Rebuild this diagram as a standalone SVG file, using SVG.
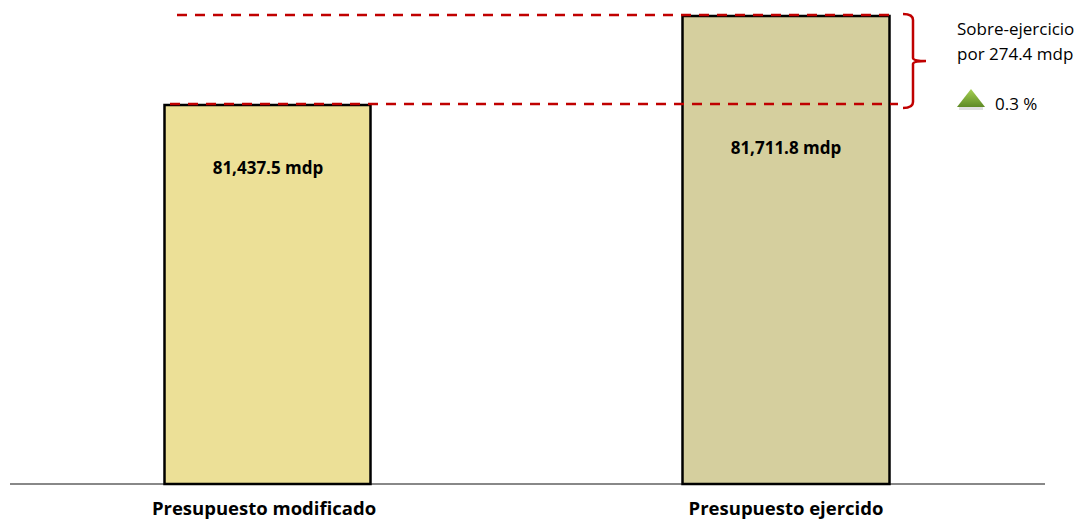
<svg xmlns="http://www.w3.org/2000/svg" width="1080" height="520" viewBox="0 0 1080 520">
<style>
.bar{stroke:#000;stroke-width:2.5}
.dash{fill:none;stroke:#C00000;stroke-width:2.5;stroke-dasharray:10 8}
.val{font-family:"Open Sans","Liberation Sans",sans-serif;font-weight:bold;font-size:17px;fill:#000;text-anchor:middle}
.cat{font-family:"Open Sans","Liberation Sans",sans-serif;font-weight:bold;font-size:18.5px;fill:#000;text-anchor:middle}
.note{font-family:"Open Sans","Liberation Sans",sans-serif;font-size:17px;fill:#000}
</style>
<defs>
<linearGradient id="tri" x1="0" y1="0" x2="0" y2="1">
<stop offset="0" stop-color="#A6D152"/>
<stop offset="1" stop-color="#5E8A25"/>
</linearGradient>
</defs>
<rect width="1080" height="520" fill="#fff"/>
<g id="axis">
<line x1="10" y1="484" x2="1045" y2="484" stroke="#888" stroke-width="2"/>
</g>
<g id="bar-modificado">
<rect class="bar" x="164.5" y="105" width="206" height="379" fill="#ECE097"/>
<text class="val" x="268" y="174">81,437.5 mdp</text>
<text class="cat" x="264" y="515">Presupuesto modificado</text>
</g>
<g id="bar-ejercido">
<rect class="bar" x="682.5" y="16" width="207" height="468" fill="#D5CF9E"/>
<text class="val" x="786" y="154">81,711.8 mdp</text>
<text class="cat" x="786" y="515">Presupuesto ejercido</text>
</g>
<g id="connectors">
<line class="dash" x1="177" y1="15" x2="889" y2="15"/>
<line class="dash" x1="170" y1="104" x2="898" y2="104"/>
<path d="M903,14 Q913,14 913,20 L913,58 Q913,61 926,61 Q913,61 913,64 L913,102 Q913,108 903,108" fill="none" stroke="#C00000" stroke-width="2.5"/>
</g>
<g id="annotation">
<text class="note" x="957" y="35">Sobre-ejercicio</text>
<text class="note" x="957" y="60">por 274.4 mdp</text>
<polygon points="971,89 985,107 957,107" fill="url(#tri)"/>
<rect x="959" y="107" width="24" height="3" fill="#ccc" opacity="0.6"/>
<text class="note" x="995" y="110">0.3 %</text>
</g>
</svg>
